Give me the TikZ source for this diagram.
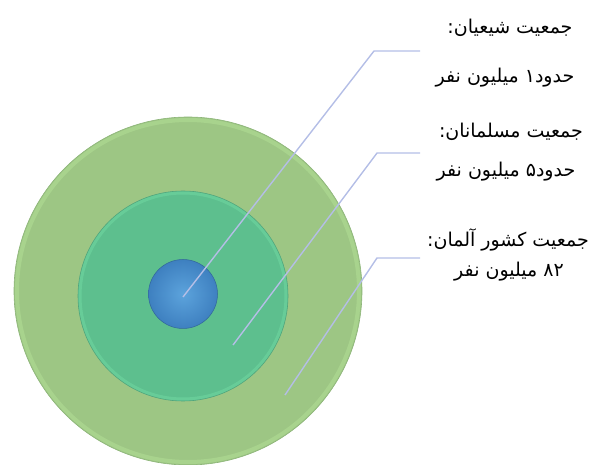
\documentclass[tikz,border=0pt]{standalone}
\usepackage{fontspec}
\TeXXeTstate=1
\newfontfamily\arabicfont[Script=Arabic]{DejaVu Sans}
\definecolor{outerg}{RGB}{157,198,132}
\definecolor{outerrim}{RGB}{176,220,148}
\definecolor{outeredge}{RGB}{140,180,120}
\definecolor{midg}{RGB}{93,191,142}
\definecolor{midrim}{RGB}{110,214,160}
\definecolor{midedge}{RGB}{80,165,125}
\definecolor{bluein}{RGB}{92,163,220}
\definecolor{blueout}{RGB}{62,128,192}
\definecolor{leader}{RGB}{180,190,230}
\begin{document}
\begin{tikzpicture}[x=1pt,y=-1pt,
  disc/.style={circle,inner sep=0pt,outer sep=0pt},
  leaderline/.style={draw=leader,line width=1.4pt},
  lbl/.style={font=\arabicfont\fontsize{19}{22}\selectfont,inner sep=0pt,anchor=center}]
\useasboundingbox (0,0) rectangle (590,465);
% outer disc
\node[disc,minimum size=348pt,fill=outerg,draw=outeredge,line width=0.6pt] (outer) at (188,291) {};
\draw[outerrim,line width=4pt,opacity=0.6] (outer.center) circle (171pt);
\fill[outerg] (outer.center) circle (167pt);
% middle disc
\node[disc,minimum size=210pt,fill=midg,draw=midedge,line width=0.6pt] (mid) at (183,296) {};
\draw[midrim,line width=3pt,opacity=0.6] (mid.center) circle (103pt);
\fill[midg] (mid.center) circle (100pt);
% inner disc
\node[disc,minimum size=69pt,inner color=bluein,outer color=blueout,draw=blueout!80!black,line width=0.5pt] (inner) at (183,294) {};
% leader points
\coordinate (p1) at (183,297);
\coordinate (k1) at (374,51);
\coordinate (e1) at (420,51);
\coordinate (p2) at (233,345);
\coordinate (k2) at (377,153);
\coordinate (e2) at (420,153);
\coordinate (p3) at (285,395);
\coordinate (k3) at (377,258);
\coordinate (e3) at (420,258);
\draw[leaderline] (p1) -- (k1) -- (e1);
\draw[leaderline] (p2) -- (k2) -- (e2);
\draw[leaderline] (p3) -- (k3) -- (e3);
% labels
\node[lbl] (t1a) at (510,28) {\beginR جمعیت شیعیان:\endR};
\node[lbl] (t1b) at (505,78) {\beginR حدود۱ میلیون نفر\endR};
\node[lbl] (t2a) at (511,132) {\beginR جمعیت مسلمانان:\endR};
\node[lbl] (t2b) at (506,172) {\beginR حدود۵ میلیون نفر\endR};
\node[lbl] (t3a) at (508,240) {\beginR جمعیت کشور آلمان:\endR};
\node[lbl] (t3b) at (509,272) {\beginR ۸۲ میلیون نفر\endR};
\end{tikzpicture}
\end{document}
